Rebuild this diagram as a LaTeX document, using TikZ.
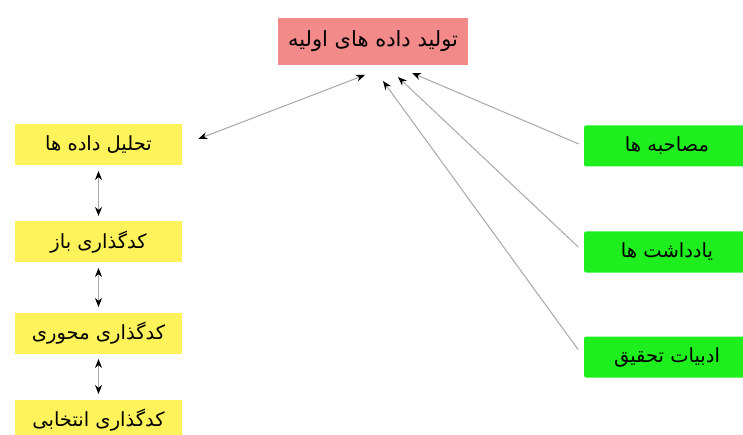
\documentclass[tikz,border=0pt]{standalone}
\usepackage{fontspec}
\usepackage{xcolor}
\usepackage{tikz}
\usetikzlibrary{arrows.meta}
\TeXXeTstate=1
\newfontfamily\farsifont[Script=Arabic]{DejaVu Sans}
\definecolor{titlered}{HTML}{F28A8A}
\definecolor{stepyellow}{HTML}{FFF35C}
\definecolor{srcgreen}{HTML}{1EEE1E}
\definecolor{linkgray}{HTML}{A8A8A8}

\begin{document}
\begin{tikzpicture}[x=1pt, y=-1pt, >={Stealth[black, length=9pt, width=7pt]},
			line width=1pt,
			box/.style={inner sep=0pt, minimum height=41pt,
				font=\farsifont\fontsize{19.5}{24}\selectfont},
			stepbox/.style={box, fill=stepyellow, minimum width=167pt},
			srcbox/.style={box, fill=srcgreen, rounded corners=2pt, minimum width=166pt},
			link/.style={draw=linkgray}]
		\path[use as bounding box, fill=white] (0, 0) rectangle (743, 435);

		\node[box, fill=titlered, minimum width=190pt, minimum height=47pt,
			font=\farsifont\fontsize{21}{25}\selectfont] (title) at (373, 41.5)
			{\beginR تولید داده های اولیه\endR};

		\node[stepbox] (analysis) at (98.5, 145) {\beginR تحلیل داده ها\endR};
		\node[stepbox] (opencode) at (98.5, 242) {\beginR کدگذاری باز\endR};
		\node[stepbox] (axialcode) at (98.5, 333) {\beginR کدگذاری محوری\endR};
		\node[stepbox] (selectcode) at (98.5, 420) {\beginR کدگذاری انتخابی\endR};

		\node[srcbox] (interviews) at (667, 146) {\beginR مصاحبه ها\endR};
		\node[srcbox] (notes) at (667, 252) {\beginR یادداشت ها\endR};
		\node[srcbox] (literature) at (667, 357) {\beginR ادبیات تحقیق\endR};

		% arrow tips under the title
		\coordinate (tipa) at (365, 75);
		\coordinate (tipb) at (383, 81);
		\coordinate (tipc) at (398, 77);
		\coordinate (tipd) at (412, 73);

		\draw[link, <->, shorten <=17pt] (analysis.east) -- (tipa);
		\draw[link, ->, shorten <=5pt] (interviews.west) -- (tipd);
		\draw[link, ->, shorten <=7pt] (notes.west) -- (tipc);
		\draw[link, ->, shorten <=9pt] (literature.west) -- (tipb);

		\draw[link, <->, shorten <=5pt, shorten >=5pt] (analysis.south) -- (opencode.north);
		\draw[link, <->, shorten <=5pt, shorten >=5pt] (opencode.south) -- (axialcode.north);
		\draw[link, <->, shorten <=5pt, shorten >=5pt] (axialcode.south) -- (selectcode.north);
	\end{tikzpicture}
\end{document}
